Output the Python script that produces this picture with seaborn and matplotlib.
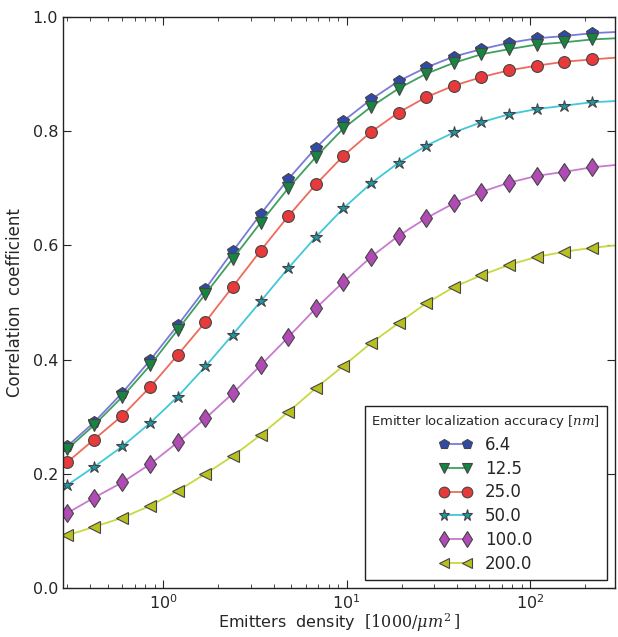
import matplotlib
matplotlib.use("Agg")
import matplotlib.pyplot as plt
import seaborn as sns
import pandas as pd
import numpy as np
from matplotlib.ticker import LogLocator, FixedLocator

sns.set_style("ticks")
plt.rcParams['font.family'] = ['DejaVu Sans']
plt.rcParams['mathtext.fontset'] = 'custom'
plt.rcParams['mathtext.rm'] = 'DejaVu Serif'
plt.rcParams['mathtext.it'] = 'DejaVu Serif:italic'

# emitter density [1000/um^2]; first and last entries are the line ends at the axis edges
density = [0.285, 0.3, 0.42, 0.6, 0.85, 1.2, 1.7, 2.4, 3.4, 4.8, 6.8, 9.6,
           13.6, 19.2, 27.2, 38.4, 54.3, 76.8, 108.6, 153.6, 217.2, 290.0]

labels = ["6.4", "12.5", "25.0", "50.0", "100.0", "200.0"]

acc_6_4 = [0.245, 0.248, 0.290, 0.342, 0.399, 0.460, 0.524, 0.590, 0.655, 0.716, 0.771, 0.818,
           0.856, 0.888, 0.912, 0.931, 0.944, 0.955, 0.963, 0.967, 0.972, 0.974]
acc_12_5 = [0.240, 0.243, 0.285, 0.335, 0.390, 0.452, 0.515, 0.577, 0.640, 0.700, 0.755, 0.805,
            0.843, 0.875, 0.901, 0.920, 0.935, 0.944, 0.952, 0.956, 0.961, 0.963]
acc_25 = [0.216, 0.220, 0.260, 0.302, 0.352, 0.408, 0.466, 0.528, 0.591, 0.651, 0.707, 0.757,
          0.799, 0.833, 0.860, 0.880, 0.895, 0.907, 0.915, 0.922, 0.926, 0.929]
acc_50 = [0.177, 0.180, 0.212, 0.248, 0.289, 0.335, 0.388, 0.444, 0.502, 0.560, 0.615, 0.665,
          0.709, 0.745, 0.775, 0.798, 0.816, 0.830, 0.839, 0.845, 0.851, 0.853]
acc_100 = [0.128, 0.131, 0.158, 0.185, 0.217, 0.255, 0.297, 0.341, 0.390, 0.439, 0.490, 0.536,
           0.580, 0.617, 0.648, 0.674, 0.694, 0.710, 0.722, 0.729, 0.737, 0.741]
acc_200 = [0.090, 0.092, 0.107, 0.123, 0.144, 0.170, 0.200, 0.231, 0.268, 0.308, 0.350, 0.389,
           0.429, 0.464, 0.499, 0.527, 0.548, 0.566, 0.580, 0.589, 0.596, 0.600]

series = [acc_6_4, acc_12_5, acc_25, acc_50, acc_100, acc_200]
markers = ['p', 'v', 'o', '*', 'd', '<']
sizes = [8.5, 8.5, 8.5, 9, 9.5, 8.5]
face_colors = ['#2f4aa8', '#16853f', '#e83a3a', '#1a9aa8', '#b04ab4', '#b8c020']
line_colors = ['#7a7ad8', '#3fa060', '#f06a5a', '#40c8d8', '#c87ad0', '#c8d840']

fig = plt.figure(figsize=(6.18, 6.37), dpi=100)
ax = fig.add_axes([0.102, 0.077, 0.893, 0.896])

marker_idx = list(range(1, len(density) - 1))
for vals, lab, mk, ms, fc, lc in zip(series, labels, markers, sizes, face_colors, line_colors):
    df = pd.DataFrame({"density": density, "corr": vals})
    sns.lineplot(data=df, x="density", y="corr", ax=ax, color=lc, lw=1.3,
                 marker=mk, markersize=ms, markerfacecolor=fc,
                 markeredgecolor='#444444', markeredgewidth=0.8,
                 markevery=marker_idx, label=lab, sort=False)

ax.set_xscale('log')
ax.set_xlim(0.285, 290)
ax.set_ylim(0.0, 1.0)
ax.yaxis.set_major_locator(FixedLocator([0.0, 0.2, 0.4, 0.6, 0.8, 1.0]))
ax.set_yticklabels(["0.0", "0.2", "0.4", "0.6", "0.8", "1.0"])
ax.xaxis.set_minor_locator(LogLocator(base=10, subs=np.arange(2, 10)))
ax.tick_params(which='both', direction='in', top=True, right=True, labelsize=11.5)
ax.tick_params(which='major', length=6, width=0.8, pad=3.5)
ax.tick_params(which='minor', length=3, width=0.6)
for sp in ax.spines.values():
    sp.set_color('#222222')
    sp.set_linewidth(1.0)

ax.set_xlabel(r"Emitters  density  $[1000/\mu m^2\,]$", fontsize=11.5, labelpad=0)
ax.set_ylabel("Correlation  coefficient", fontsize=12, labelpad=6)

leg = ax.legend(loc='lower right', title=r"Emitter localization accuracy $[nm]$",
                fontsize=12, title_fontsize=9.5, numpoints=2, fancybox=False,
                edgecolor='#222222', framealpha=1, borderaxespad=0.5,
                handlelength=2.0, labelspacing=0.35, markerscale=0.9)
leg.get_frame().set_linewidth(1.0)

fig.savefig("out.png", dpi=100)
